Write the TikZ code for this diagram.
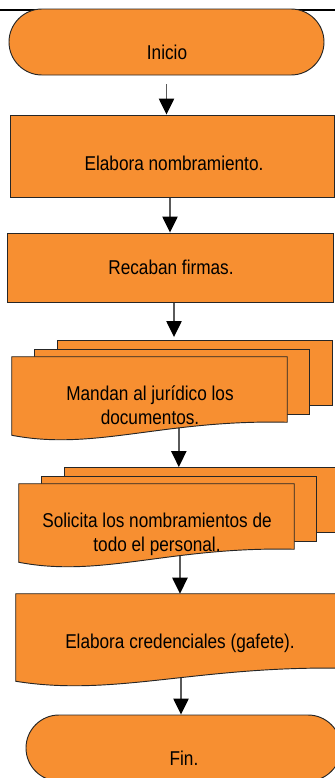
\documentclass[tikz,border=0pt]{standalone}
\usepackage{fontspec}
\setmainfont{Liberation Sans}[FakeStretch=0.86]
\usetikzlibrary{arrows.meta, calc, shapes.misc, backgrounds}

\definecolor{naranja}{RGB}{247,143,49}
\definecolor{gris}{RGB}{90,90,90}

\newcommand{\onda}[1]{(#1.north west) -- (#1.north east) -- ([yshift=9.75pt]#1.south east)
  .. controls ($(#1.south west)!0.55!(#1.south east)+(0pt,12pt)$) and ($(#1.south west)!0.3!(#1.south east)+(0pt,-12pt)$) .. (#1.south west) -- cycle}

\begin{document}
\begin{tikzpicture}[
    x=0.75pt, y=-0.75pt,
    terminal/.style={rounded rectangle, draw=black!85, line width=0.7pt, fill=naranja, minimum width=236.25pt, minimum height=49.5pt, inner sep=0pt},
    proceso/.style={draw=black!85, line width=0.7pt, fill=naranja, inner sep=0pt},
    documento/.style={minimum width=206.25pt, minimum height=58.5pt, inner sep=0pt},
    hoja/.style={draw=black!85, line width=0.7pt, fill=naranja, minimum width=206.25pt, minimum height=48.75pt, inner sep=0pt},
    onda/.style={draw=black!85, line width=0.7pt, fill=naranja},
    texto/.style={align=center, font=\fontsize{15}{18}\selectfont},
    flecha/.style={draw=gris, line width=1pt, -{Triangle[length=12pt, width=11.5pt, color=black]}}
]
    \clip (0,0) rectangle (335,778);
    \useasboundingbox (0,0) rectangle (335,778);
    \draw[line width=1.25pt] (0,10) -- (335,10);

    \node[terminal] (inicio) at (166.5,42) {};
    \node[proceso, minimum width=243pt, minimum height=61.5pt] (b1) at (172,156) {};
    \node[proceso, minimum width=244.5pt, minimum height=51.75pt] (b2) at (170,267.5) {};

    \node[documento] (d1) at (149.5,396) {};
    \node[hoja] (d1c) at ([shift={(45,-23)}]d1.center) {};
    \node[hoja] (d1b) at ([shift={(22,-14.5)}]d1.center) {};
    \draw[onda] \onda{d1};

    \node[documento] (d2) at (156.5,523) {};
    \node[hoja] (d2c) at ([shift={(45,-23)}]d2.center) {};
    \node[hoja] (d2b) at ([shift={(22,-14.5)}]d2.center) {};
    \draw[onda] \onda{d2};

    \node[documento, minimum width=247.5pt, minimum height=65.25pt] (d3) at (181,637.5) {};
    \draw[onda] \onda{d3};

    \node[terminal] (fin) at (183.5,748) {};

    \node[texto] (t-inicio) at (167,52) {Inicio};
    \node[texto] (t-b1) at (174,163) {Elabora nombramiento.};
    \node[texto] (t-b2) at (171,267) {Recaban firmas.};
    \node[texto] (t-d1) at (150,405) {Mandan al jurídico los\\documentos.};
    \node[texto] (t-d2) at (157,534) {Solicita los nombramientos de\\todo el personal.};
    \node[texto] (t-d3) at (180,643) {Elabora credenciales (gafete).};
    \node[texto] (t-fin) at (184,758) {Fin.};

    \begin{scope}[on background layer]
        \draw[flecha, shorten <=6.75pt] (inicio.south) -- (inicio.south |- b1.north);
        \draw[flecha] ([xshift=-1.5pt]b1.south) -- ([xshift=-1.5pt]b1.south |- b2.north);
        \draw[flecha, shorten >=2.25pt] ([xshift=3pt]b2.south) -- ([xshift=3pt]b2.south |- d1c.north);
        \draw[flecha] ([xshift=22pt]d1.center) -- ([xshift=22pt]d1.center |- d2c.north);
        \draw[flecha] ([xshift=17.6pt]d2.center) -- ([xshift=17.6pt]d2.center |- d3.north);
        \draw[flecha] (d3.center) -- (d3.center |- fin.north);
    \end{scope}
\end{tikzpicture}
\end{document}
